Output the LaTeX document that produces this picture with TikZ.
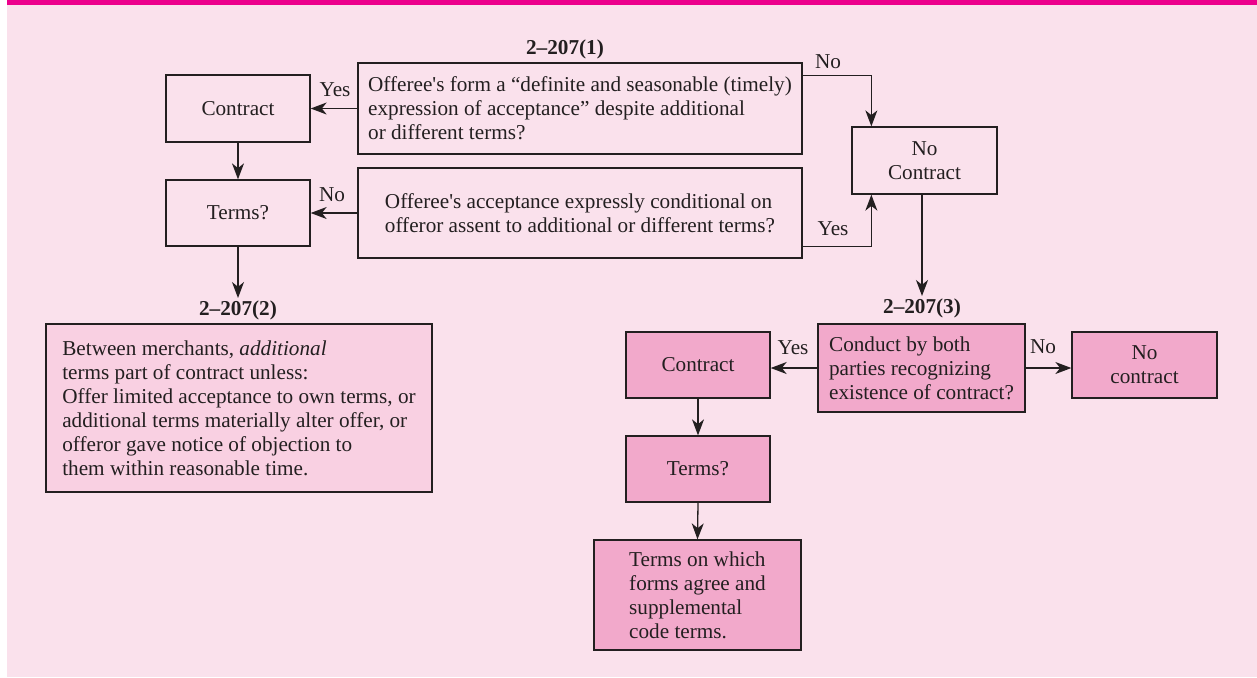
\documentclass[tikz,border=0pt]{standalone}
\usepackage{fontspec}
\setmainfont{Liberation Serif}
\usetikzlibrary{arrows.meta}
\definecolor{pagebg}{HTML}{FAE1EC}
\definecolor{topbar}{HTML}{EC008C}
\definecolor{lightbox}{HTML}{F9D0E2}
\definecolor{darkbox}{HTML}{F2A9CB}
\definecolor{ink}{HTML}{231F20}
% straight apostrophe, taken directly from the font
\newcommand\sq{\XeTeXglyph\XeTeXglyphindex "quotesingle"\relax}
\begin{document}
\begin{tikzpicture}[x=0.5pt,y=-0.5pt,
  every node/.style={font=\fontsize{10.6pt}{12pt}\selectfont, text=ink},
  box/.style={draw=ink, line width=0.65pt, inner sep=0pt, align=left},
  plainbox/.style={box, fill=pagebg},
  softbox/.style={box, fill=lightbox},
  pinkbox/.style={box, fill=darkbox},
  heading/.style={font=\fontsize{10.6pt}{12pt}\selectfont\bfseries, inner sep=1pt},
  tag/.style={inner sep=0pt},
  arr/.style={draw=ink, line width=0.65pt, -{Stealth[length=8pt, width=6pt, inset=2.4pt]}}
]
% page: white edge, pink panel, magenta rule along the top
\path[use as bounding box] (0,0) rectangle (1257,677);
\fill[white] (0,0) rectangle (1257,677);
\fill[pagebg] (7,0) rectangle (1257,677);
\fill[topbar] (7,0) rectangle (1257,5);

% 2-207(1) block
\node[heading] (h1) at (565,49) {2–207(1)};
\node[plainbox, minimum width=222pt, minimum height=45.5pt] (q1) at (580,108.5)
  {Offeree\sq s form a “definite and seasonable (timely)\\expression of acceptance” despite additional\\or different terms?};
\node[plainbox, minimum width=222pt, minimum height=45pt] (q2) at (580,213)
  {Offeree\sq s acceptance expressly conditional on\\offeror assent to additional or different terms?};
\node[plainbox, minimum width=72pt, minimum height=33.5pt, align=center] (contractA) at (238,108.5) {Contract};
\node[plainbox, minimum width=72pt, minimum height=33pt, align=center] (termsA) at (238,213) {Terms?};
\node[plainbox, minimum width=72.5pt, minimum height=33.5pt, align=center] (nocA) at (924.5,160.5) {No\\Contract};

% 2-207(2) block
\node[heading] (h2) at (238,310) {2–207(2)};
\node[softbox, minimum width=193pt, minimum height=84pt] (rule2) at (239,408)
  {Between merchants, \textit{additional}\\terms part of contract unless:\\Offer limited acceptance to own terms, or\\additional terms materially alter offer, or\\offeror gave notice of objection to\\them within reasonable time.};

% 2-207(3) block
\node[heading] (h3) at (922,308) {2–207(3)};
\node[pinkbox, minimum width=103.5pt, minimum height=44pt] (conduct) at (921.5,368)
  {Conduct by both\\parties recognizing\\existence of contract?};
\node[pinkbox, minimum width=72.5pt, minimum height=33pt, align=center] (nocB) at (1144.5,365) {No\\contract};
\node[pinkbox, minimum width=72pt, minimum height=33pt, align=center] (contractB) at (698,365) {Contract};
\node[pinkbox, minimum width=72pt, minimum height=33pt, align=center] (termsB) at (698,469) {Terms?};
\node[pinkbox, minimum width=103.5pt, minimum height=55pt] (final) at (697.5,595)
  {Terms on which\\forms agree and\\supplemental\\code terms.};

% connectors of the upper chart
\draw[arr] (q1.west) -- (contractA.east);
\node[tag] (yesA) at (335,90) {Yes};
\draw[arr] (q2.west) -- (termsA.east);
\node[tag] (noA) at (332,195) {No};
\draw[arr] (contractA.south) -- (termsA.north);
\draw[arr] (termsA.south) -- (h2.north);
\draw[arr] ([yshift=-6.5pt]q1.north east) -| ([xshift=10pt]nocA.north west);
\node[tag] (noB) at (828,62) {No};
\draw[arr] ([yshift=6pt]q2.south east) -| ([xshift=10pt]nocA.south west);
\node[tag] (yesB) at (833,229) {Yes};
\draw[arr] (nocA.south -| h3.north) -- (h3.north);

% connectors of the 2-207(3) chart
\draw[arr] (conduct.west) -- (conduct.west -| contractB.east);
\node[tag] (yesC) at (793,348) {Yes};
\draw[arr] (conduct.east) -- (conduct.east -| nocB.west);
\node[tag] (noC) at (1043,347) {No};
\draw[arr] (contractB.south) -- (termsB.north);
\draw[arr] (termsB.south) -- (final.north);
\end{tikzpicture}
\end{document}
